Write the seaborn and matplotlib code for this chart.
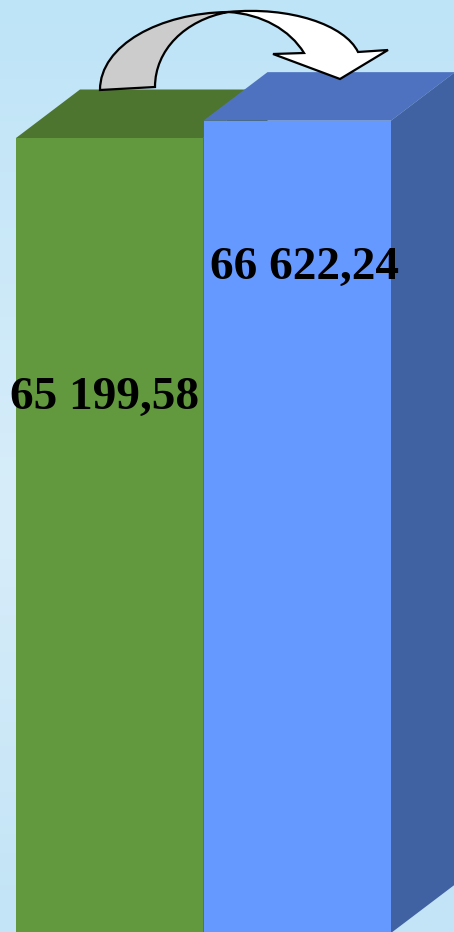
import numpy as np
import pandas as pd
import matplotlib
matplotlib.use("Agg")
import matplotlib.pyplot as plt
from matplotlib.patches import Polygon, PathPatch
from matplotlib.path import Path
import seaborn as sns

# ---- data ----
categories = ["Период 1", "Период 2"]
values = [65199.58, 66622.24]
value_labels = ["65 199,58", "66 622,24"]
front_colors = ["#62993E", "#6699FF"]
top_colors = ["#4E7530", "#4E72C0"]
side_colors = ["#3E6026", "#4062A2"]

sns.set_theme(style="white")
plt.rcParams['font.family'] = ['Liberation Serif', 'DejaVu Serif']

W, H, DPI = 454, 932, 100
fig = plt.figure(figsize=(W / DPI, H / DPI), dpi=DPI)

# background gradient
bg = fig.add_axes([0, 0, 1, 1])
bg.set_axis_off()
top_c = np.array([190, 228, 247]) / 255
mid_c = np.array([216, 237, 250]) / 255
bot_c = np.array([194, 228, 246]) / 255
t = np.linspace(0, 1, 200)[:, None]
grad = np.where(t < 0.55, top_c + (mid_c - top_c) * (t / 0.55),
                mid_c + (bot_c - mid_c) * ((t - 0.55) / 0.45))
bg.imshow(grad[:, None, :].repeat(2, axis=1), aspect="auto", extent=[0, 1, 0, 1])
bg.set_xlim(0, 1); bg.set_ylim(0, 1)

# main axes
ax = fig.add_axes([0, 0, 1, 1])
ax.patch.set_alpha(0)
df = pd.DataFrame({"cat": categories, "val": values})
sns.barplot(data=df, x="cat", y="val", hue="cat", palette=front_colors,
            order=categories, hue_order=categories, width=1.0, saturation=1,
            legend=False, ax=ax, linewidth=0, edgecolor="none")

# scale: pixel geometry
unit_px = 187.5
k = values[0] / (933 - 138)
ax.set_xlim(-0.5 - 16 / unit_px, 1.5 + (W - 391) / unit_px)
ax.set_ylim(k * 1, k * 933)
ax.set_axis_off()

def px2data(xp, yp):
    return ax.transData.inverted().transform((xp, H - yp))

o = px2data(0, 0)
d = px2data(64, 0)
e = px2data(0, 48.5)
dx = d[0] - o[0]
dy = o[1] - e[1]

for i, p in enumerate(ax.patches):
    x0 = p.get_x(); x1 = x0 + p.get_width(); h = p.get_height()
    z = 3 + 3 * i
    p.set_zorder(z)
    p.set_edgecolor("none")
    ax.add_patch(Polygon([(x0, h), (x1, h), (x1 + dx, h + dy), (x0 + dx, h + dy)],
                         closed=True, facecolor=top_colors[i], edgecolor="none", zorder=z))
    ax.add_patch(Polygon([(x1, 0), (x1, h), (x1 + dx, h + dy), (x1 + dx, dy)],
                         closed=True, facecolor=side_colors[i], edgecolor="none", zorder=z))

# value labels
label_px = [(104.5, 398), (304, 268)]
for i, (lx, ly) in enumerate(label_px):
    dxy = px2data(lx, ly)
    ax.text(dxy[0], dxy[1], value_labels[i], ha="center", va="center",
            fontsize=34, fontweight="bold", color="black", zorder=20)

# curved arrow overlay (pixel coordinates)
ov = fig.add_axes([0, 0, 1, 1])
ov.patch.set_alpha(0)
ov.set_axis_off()
ov.set_xlim(0, W); ov.set_ylim(H, 0)

gray_verts = [(100, 90), (100, 45), (160, 13), (228, 12),
              (185, 20), (155, 50), (155, 87), (100, 90), (100, 90)]
gray_codes = [Path.MOVETO, Path.CURVE4, Path.CURVE4, Path.CURVE4,
              Path.CURVE4, Path.CURVE4, Path.CURVE4, Path.LINETO, Path.CLOSEPOLY]
ov.add_patch(PathPatch(Path(gray_verts, gray_codes), facecolor="#CCCCCC",
                       edgecolor="black", linewidth=1.6, zorder=30))

white_verts = [(228, 12), (290, 6), (345, 25), (358, 52),
               (388, 50), (340, 79), (273, 54), (304, 53),
               (290, 30), (262, 14), (228, 12), (228, 12)]
white_codes = [Path.MOVETO, Path.CURVE4, Path.CURVE4, Path.CURVE4,
               Path.LINETO, Path.LINETO, Path.LINETO, Path.LINETO,
               Path.CURVE4, Path.CURVE4, Path.CURVE4, Path.CLOSEPOLY]
ov.add_patch(PathPatch(Path(white_verts, white_codes), facecolor="white",
                       edgecolor="black", linewidth=1.6, zorder=31))

fig.savefig("out.png", dpi=DPI)
